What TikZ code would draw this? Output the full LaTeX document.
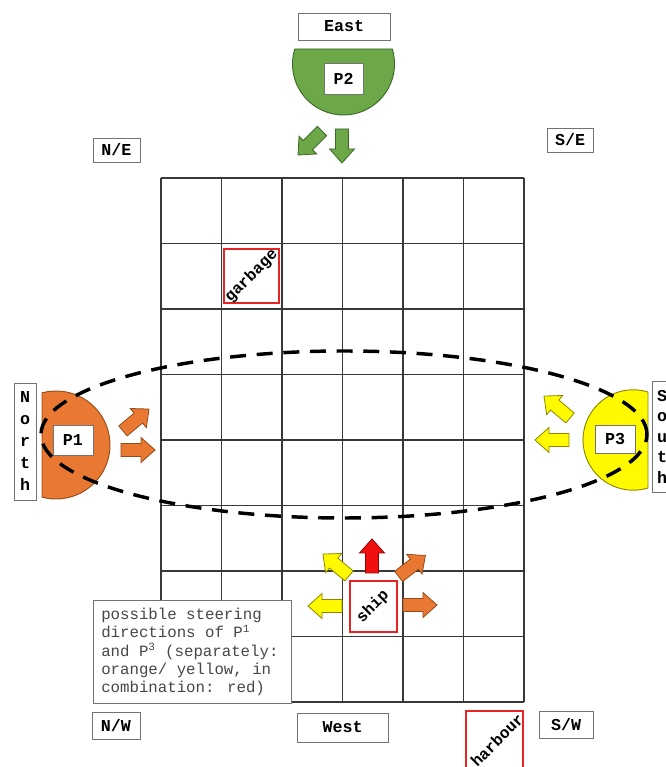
\documentclass[tikz,border=0pt]{standalone}
\usepackage{fontspec}
\setmainfont{Liberation Mono}
\definecolor{porange}{RGB}{233,121,50}
\definecolor{porangeD}{RGB}{150,75,25}
\definecolor{pyellow}{RGB}{255,250,0}
\definecolor{pyellowD}{RGB}{140,135,0}
\definecolor{pgreen}{RGB}{108,168,72}
\definecolor{pgreenD}{RGB}{60,105,40}
\definecolor{pred}{RGB}{240,15,15}
\definecolor{predD}{RGB}{150,0,0}
\definecolor{boxred}{RGB}{232,35,35}
\newcommand{\blkarrow}[4]{\filldraw[#4,line width=0.6pt,line join=miter,shift={(#1,#2)},rotate=#3] (-17,-6.5) -- (3,-6.5) -- (3,-12.5) -- (17,0) -- (3,12.5) -- (3,6.5) -- (-17,6.5) -- cycle;}
\tikzset{
 lbl/.style={draw=black!55, fill=white, line width=0.6pt, font=\fontsize{12.5}{14}\selectfont\bfseries, inner sep=0pt},
 vlbl/.style={lbl, align=center, font=\fontsize{12.5}{16.5}\selectfont\bfseries},
 redbox/.style={draw=boxred, line width=1.5pt, inner sep=0pt},
 celltext/.style={font=\fontsize{12}{14}\selectfont\bfseries, rotate=45, inner sep=0pt},
 gridline/.style={draw=black!78, line width=1.1pt},
 notebox/.style={draw=black!55, fill=white, line width=0.6pt, inner sep=0pt},
 notetext/.style={font=\fontsize{11.8}{13.7}\selectfont, text=black!72, align=left, inner sep=0pt},
 oarrow/.style={fill=porange, draw=porangeD},
 yarrow/.style={fill=pyellow, draw=pyellowD},
 garrow/.style={fill=pgreen, draw=pgreenD},
 rarrow/.style={fill=pred, draw=predD},
 ring/.style={black, line width=2.6pt, dash pattern=on 12pt off 8pt}
}
\begin{document}
\begin{tikzpicture}[x=0.75pt,y=0.75pt]
\useasboundingbox (0,0) rectangle (665,767);
\fill[white] (0,0) rectangle (665,767);
% grid
\foreach \i in {0,...,6} \draw[gridline] ({161+60.5*\i},65) -- ({161+60.5*\i},589);
\foreach \j in {0,...,8} \draw[gridline] (161,{65+65.5*\j}) -- (524,{65+65.5*\j});
% note
\node[notebox, minimum width=148.5pt, minimum height=77.25pt, anchor=north west] (note) at (93,167) {};
\node[notetext, anchor=north west] (notetxt) at ([xshift=6pt,yshift=-6pt]note.north west) {possible steering\\directions of P\textsuperscript{1}\\and P\textsuperscript{3} (separately:\\orange/ yellow, in\\combination: red)};
% red cells
\node[redbox, minimum width=35.25pt, minimum height=38.25pt] (ship) at (373,160.5) {};
\node[celltext] (shiptxt) at (ship.center) {ship};
\node[redbox, minimum width=41.25pt, minimum height=40.5pt] (garbage) at (251.5,491) {};
\node[celltext] (garbagetxt) at (garbage.center) {garbage};
\node[redbox, minimum width=42.75pt, minimum height=45pt] (harbour) at (494.5,26) {};
\node[celltext] (harbourtxt) at (497,27) {harbour};
% players
\filldraw[fill=porange, draw=porangeD, line width=0.7pt] (56,322) ++(105:54) arc[start angle=105, end angle=-105, radius=54] -- cycle;
\filldraw[fill=pgreen, draw=pgreenD, line width=0.7pt] (343.5,703) ++(162.9:51) arc[start angle=162.9, end angle=377.1, radius=51] -- cycle;
\filldraw[fill=pyellow, draw=pyellowD, line width=0.7pt] (633.2,327) ++(72.9:50.2) arc[start angle=72.9, end angle=287.1, radius=50.2] -- cycle;
\node[lbl, minimum width=30pt, minimum height=22.5pt] (p1) at (73,327) {P1};
\node[lbl, minimum width=29.25pt, minimum height=23.25pt] (p2) at (343.5,688.5) {P2};
\node[lbl, minimum width=30pt, minimum height=21pt] (p3) at (615,328) {P3};
% arrows
\blkarrow{342}{621}{-90}{garrow}
\blkarrow{310}{624}{225}{garrow}
\blkarrow{136}{347}{40}{oarrow}
\blkarrow{138}{317}{0}{oarrow}
\blkarrow{557}{360}{140}{yarrow}
\blkarrow{552}{327}{180}{yarrow}
\blkarrow{372}{211}{90}{rarrow}
\blkarrow{336}{202}{140}{yarrow}
\blkarrow{325}{161}{180}{yarrow}
\blkarrow{412}{201}{38}{oarrow}
\blkarrow{420}{162}{0}{oarrow}
% labels
\node[lbl, minimum width=69pt, minimum height=20.25pt] (east) at (344,740.5) {East};
\node[lbl, minimum width=68.25pt, minimum height=21.75pt] (west) at (342.5,39.5) {West};
\node[lbl, minimum width=35.25pt, minimum height=18pt] (ne) at (116.5,617) {N/E};
\node[lbl, minimum width=34.5pt, minimum height=18pt] (se) at (570,627) {S/E};
\node[lbl, minimum width=36pt, minimum height=20.25pt] (nw) at (116,41) {N/W};
\node[lbl, minimum width=40.5pt, minimum height=20.25pt] (sw) at (566,42.5) {S/W};
\node[vlbl, minimum width=16.5pt, minimum height=87.75pt] (north) at (25,325.5) {N\\o\\r\\t\\h};
\node[vlbl, font=\fontsize{12.5}{15.4}\selectfont\bfseries, minimum width=15pt, minimum height=83.25pt] (south) at (662,330.5) {S\\o\\u\\t\\h};
% dashed ellipse
\draw[ring] (344,332.5) ellipse [x radius=303, y radius=83.5];
\end{tikzpicture}
\end{document}
